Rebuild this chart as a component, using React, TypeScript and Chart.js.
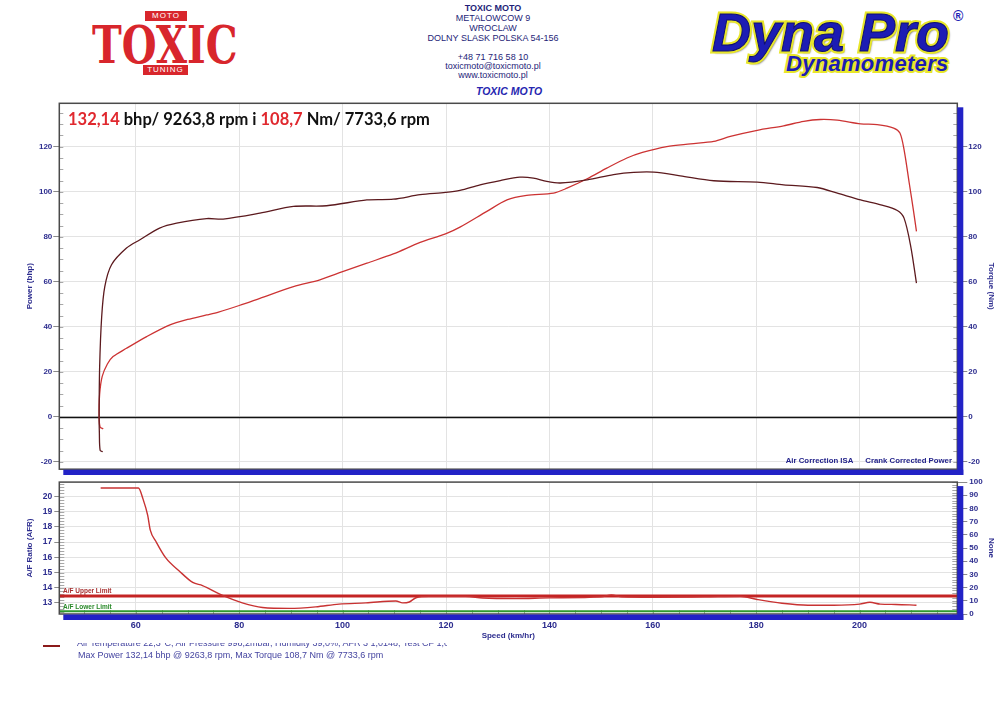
import React, { useEffect, useRef } from 'react';
import { Chart, registerables } from 'chart.js';

Chart.register(...registerables);

// Axis ranges
const speedMin = 45.2;
const speedMax = 218.9;
const powerAxisMin = -23.2;
const powerAxisMax = 139.3;
const afrAxisMin = 12.27;
const afrAxisMax = 20.95;
const noneAxisMin = 0;
const noneAxisMax = 100;

// Power curve (bhp) vs speed (km/hr)
const powerSpeed = [53.7, 53.1, 52.9, 53.0, 53.5, 54.5, 55.6, 58.2, 62.1, 66.6, 70.0, 73.7, 76.0, 80.0, 84.0, 90.5, 95.6, 100.0, 104.7, 109.8, 115.0, 119.9, 122.7, 127.9, 131.8, 135.6, 140.8, 143.4, 147.3, 151.1, 155.0, 158.0, 162.7, 167.3, 171.8, 175.0, 180.2, 185.3, 189.2, 192.4, 195.7, 200.2, 203.4, 206.6, 207.8, 208.6, 209.6, 210.4, 211.0];
const powerBhp = [-5.3, -4.6, 0, 10, 18, 23.5, 26.8, 30.5, 35.7, 40.9, 43.3, 45.3, 46.6, 49.5, 52.7, 57.9, 60.9, 64.5, 68.3, 72.4, 77.5, 81.3, 84.3, 91.3, 96.4, 98.4, 99.4, 101.6, 105.8, 110.5, 115.0, 117.5, 120.1, 121.3, 122.4, 124.6, 127.3, 129.3, 131.3, 132.1, 131.8, 130.2, 129.8, 128.3, 126.1, 118.7, 103.9, 92.0, 82.4];

// Torque curve (Nm) vs speed (km/hr)
const torqueSpeed = [53.6, 53.1, 52.95, 52.9, 53.0, 53.4, 54.0, 55.3, 58.2, 60.8, 64.6, 67.9, 73.7, 76.9, 84.0, 90.5, 96.9, 104.7, 109.8, 115.0, 119.9, 122.7, 126.6, 130.5, 134.3, 136.9, 139.5, 142.1, 147.3, 152.4, 156.3, 160.2, 165.3, 171.8, 180.2, 185.3, 191.8, 195.7, 200.2, 204.1, 207.3, 208.6, 209.9, 211.0];
const torqueNm = [-15.4, -14.8, -7, 0, 22, 44.6, 57.9, 67.6, 75.0, 78.7, 83.9, 86.1, 88.1, 87.9, 90.5, 93.5, 93.8, 96.4, 96.7, 98.7, 99.7, 100.6, 103.1, 105.0, 106.5, 106.1, 104.6, 103.9, 105.3, 107.6, 108.6, 108.7, 107.1, 104.9, 104.3, 103.1, 101.9, 99.4, 96.4, 94.2, 91.7, 88.3, 75.7, 59.4];

// Air/fuel ratio vs speed (km/hr)
const afrSpeed = [53.2, 60.5, 61.4, 62.3, 62.8, 63.9, 65.8, 68.4, 71.0, 72.9, 76.8, 80.6, 84.5, 89.7, 94.8, 99.3, 104.5, 110.3, 111.6, 112.9, 114.2, 116.7, 123.8, 127.1, 133.5, 140, 150, 152, 154, 160, 170, 177, 180, 185, 190, 195, 200, 202, 204, 207, 211];
const afrRatio = [20.56, 20.56, 19.83, 18.76, 17.79, 17.04, 15.96, 15.1, 14.35, 14.14, 13.49, 13.0, 12.7, 12.64, 12.74, 12.92, 13.0, 13.13, 13.0, 13.06, 13.34, 13.43, 13.43, 13.32, 13.28, 13.33, 13.4, 13.53, 13.4, 13.37, 13.4, 13.43, 13.24, 12.98, 12.85, 12.85, 12.92, 13.04, 12.92, 12.9, 12.85];
const afrUpperLimit = 13.45;
const afrLowerLimit = 12.45;

const NAVY = '#2c2c8e';
const FONT = "'Liberation Sans', Arial, sans-serif";
const BLUE = '#2222c6';

const toPoints = (xs: number[], ys: number[]) => xs.map((x, i) => ({ x, y: ys[i] }));

const dynoFrame = {
  id: 'dynoFrame',
  beforeDatasetsDraw(chart: any, _args: any, opts: any) {
    const { ctx, chartArea: a, scales } = chart;
    ctx.save();
    ctx.strokeStyle = '#a8a8a8';
    ctx.lineWidth = 1;
    const yMinor = (scale: any, step: number, len: number, side: string) => {
      if (!scale || !step) return;
      for (let i = Math.ceil(scale.min / step - 1e-9); i * step <= scale.max + 1e-9; i++) {
        const y = Math.round(scale.getPixelForValue(i * step)) + 0.5;
        ctx.beginPath();
        if (side === 'left') { ctx.moveTo(a.left, y); ctx.lineTo(a.left + len, y); }
        else { ctx.moveTo(a.right - len, y); ctx.lineTo(a.right, y); }
        ctx.stroke();
      }
    };
    yMinor(scales.y, opts.leftStep, opts.leftLen || 4, 'left');
    yMinor(scales.y1, opts.rightStep, opts.rightLen || 4, 'right');
    if (opts.bottomStep) {
      const sx = scales.x;
      for (let i = Math.ceil(sx.min / opts.bottomStep); i * opts.bottomStep <= sx.max; i++) {
        const x = Math.round(sx.getPixelForValue(i * opts.bottomStep)) + 0.5;
        ctx.beginPath();
        ctx.moveTo(x, a.bottom);
        ctx.lineTo(x, a.bottom - 4);
        ctx.stroke();
      }
    }
    if (opts.zeroLine) {
      const y = Math.round(scales.y.getPixelForValue(0)) + 0.5;
      ctx.strokeStyle = '#111';
      ctx.lineWidth = 1.3;
      ctx.beginPath();
      ctx.moveTo(a.left, y);
      ctx.lineTo(a.right, y);
      ctx.stroke();
    }
    ctx.restore();
  },
  afterDraw(chart: any) {
    const { ctx, chartArea: a } = chart;
    ctx.save();
    ctx.strokeStyle = '#4a4a4a';
    ctx.lineWidth = 1.5;
    ctx.strokeRect(a.left, a.top, a.right - a.left, a.bottom - a.top);
    ctx.fillStyle = BLUE;
    ctx.fillRect(a.right, a.top + 4, 6, a.bottom - a.top + 2);
    ctx.fillRect(a.left + 4, a.bottom + 0.5, a.right - a.left + 2, 5.5);
    ctx.restore();
  },
};

const tickFont = (size: number) => ({ family: FONT, size, weight: 'bold' as const });

export default function App() {
  const topRef = useRef<HTMLCanvasElement | null>(null);
  const botRef = useRef<HTMLCanvasElement | null>(null);

  useEffect(() => {
    const top = new Chart(topRef.current as HTMLCanvasElement, {
      type: 'line',
      data: {
        datasets: [
          {
            label: 'Torque (Nm)',
            data: toPoints(torqueSpeed, torqueNm),
            borderColor: '#5c1a1e',
            borderWidth: 1.3,
            pointRadius: 0,
            tension: 0.3,
            yAxisID: 'y1',
          },
          {
            label: 'Power (bhp)',
            data: toPoints(powerSpeed, powerBhp),
            borderColor: '#cc3333',
            borderWidth: 1.3,
            pointRadius: 0,
            tension: 0.3,
            yAxisID: 'y',
          },
        ],
      },
      options: {
        responsive: false,
        maintainAspectRatio: false,
        animation: false,
        layout: { padding: { top: 8.3, bottom: 5.7, left: 0, right: 0 } },
        plugins: {
          legend: { display: false },
          tooltip: { enabled: false },
          dynoFrame: { leftStep: 5, rightStep: 5, zeroLine: true },
        } as any,
        scales: {
          x: {
            type: 'linear',
            min: speedMin,
            max: speedMax,
            ticks: { display: false, stepSize: 20, includeBounds: false },
            grid: { color: '#e3e3e3', drawTicks: false },
            border: { display: false },
            afterFit: (s: any) => { s.height = 0; },
          },
          y: {
            position: 'left',
            min: powerAxisMin,
            max: powerAxisMax,
            ticks: { stepSize: 20, includeBounds: false, color: NAVY, font: tickFont(8), padding: 1 },
            grid: { color: '#e3e3e3', tickColor: '#8a8a8a', tickLength: 6 },
            border: { display: false },
            title: { display: true, text: 'Power (bhp)', color: NAVY, font: tickFont(8), padding: { top: 25, bottom: 0 } },
            afterFit: (s: any) => { s.width = 59.3; },
          },
          y1: {
            position: 'right',
            min: powerAxisMin,
            max: powerAxisMax,
            ticks: { stepSize: 20, includeBounds: false, color: NAVY, font: tickFont(8), padding: 1 },
            grid: { drawOnChartArea: false, tickColor: '#8a8a8a', tickLength: 10 },
            border: { display: false },
            title: { display: true, text: 'Torque (Nm)', color: NAVY, font: tickFont(8), padding: { top: 4, bottom: 0 } },
            afterFit: (s: any) => { s.width = 42.7; },
          },
        },
      } as any,
      plugins: [dynoFrame as any],
    });

    const bot = new Chart(botRef.current as HTMLCanvasElement, {
      type: 'line',
      data: {
        datasets: [
          {
            label: 'A/F Ratio',
            data: toPoints(afrSpeed, afrRatio),
            borderColor: '#c83232',
            borderWidth: 1.4,
            pointRadius: 0,
            cubicInterpolationMode: 'monotone',
            yAxisID: 'y',
          },
          {
            label: 'A/F Upper Limit',
            data: [{ x: speedMin, y: afrUpperLimit }, { x: speedMax, y: afrUpperLimit }],
            borderColor: '#c42424',
            borderWidth: 3,
            pointRadius: 0,
            yAxisID: 'y',
          },
          {
            label: 'A/F Lower Limit',
            data: [{ x: speedMin, y: afrLowerLimit }, { x: speedMax, y: afrLowerLimit }],
            borderColor: '#2f9a2f',
            borderWidth: 2,
            pointRadius: 0,
            yAxisID: 'y',
          },
        ],
      },
      options: {
        responsive: false,
        maintainAspectRatio: false,
        animation: false,
        layout: { padding: { top: 4.3, bottom: 0, left: 0, right: 0 } },
        plugins: {
          legend: { display: false },
          tooltip: { enabled: false },
          dynoFrame: { leftStep: 0.2, rightStep: 2, bottomStep: 5, leftLen: 5, rightLen: 5 },
        } as any,
        scales: {
          x: {
            type: 'linear',
            min: speedMin,
            max: speedMax,
            ticks: { stepSize: 20, includeBounds: false, color: NAVY, font: tickFont(9), padding: 6 },
            grid: { color: '#e3e3e3', drawTicks: false },
            border: { display: false },
            title: { display: true, text: 'Speed (km/hr)', color: NAVY, font: tickFont(8), padding: { top: 0, bottom: 4.6 } },
            afterFit: (s: any) => { s.height = 31; },
          },
          y: {
            position: 'left',
            min: afrAxisMin,
            max: afrAxisMax,
            ticks: { stepSize: 1, includeBounds: false, color: NAVY, font: tickFont(8.5), padding: 2 },
            grid: { color: '#e3e3e3', tickColor: '#8a8a8a', tickLength: 5 },
            border: { display: false },
            title: { display: true, text: 'A/F Ratio (AFR)', color: NAVY, font: tickFont(8), padding: { top: 25, bottom: 0 } },
            afterFit: (s: any) => { s.width = 59.3; },
          },
          y1: {
            position: 'right',
            min: noneAxisMin,
            max: noneAxisMax,
            ticks: { stepSize: 10, includeBounds: false, color: NAVY, font: tickFont(8), padding: 2 },
            grid: { drawOnChartArea: false, tickColor: '#8a8a8a', tickLength: 10 },
            border: { display: false },
            title: { display: true, text: 'None', color: NAVY, font: tickFont(8), padding: { top: 4, bottom: 0 } },
            afterFit: (s: any) => { s.width = 42.7; },
          },
        },
      } as any,
      plugins: [dynoFrame as any],
    });

    return () => {
      top.destroy();
      bot.destroy();
    };
  }, []);

  const abs = (s: React.CSSProperties): React.CSSProperties => ({ position: 'absolute', whiteSpace: 'nowrap', ...s });
  const hdr: React.CSSProperties = { fontFamily: FONT, fontSize: 9, color: '#1e1e78', lineHeight: '10px', textAlign: 'center', width: 200, left: 393 };

  return (
    <div style={{ position: 'absolute', left: 0, top: 0, width: 1000, height: 706, background: '#fff', overflow: 'hidden', fontFamily: FONT }}>
      {/* TOXIC logo */}
      <div style={abs({ left: 145, top: 11, width: 42, height: 10, background: '#d8262c', color: '#fff', fontSize: 8, lineHeight: '10px', textAlign: 'center', letterSpacing: 1 })}>MOTO</div>
      <div style={abs({ left: 92, top: 14, fontFamily: "'DejaVu Serif', serif", fontWeight: 'bold', fontSize: 40, lineHeight: '48px', color: '#d8262c', letterSpacing: 0, transform: 'scaleY(1.3)', transformOrigin: 'top left' })}>TOXIC</div>
      <div style={abs({ left: 143, top: 65, width: 45, height: 10, background: '#d8262c', color: '#fff', fontSize: 8, lineHeight: '10px', textAlign: 'center', letterSpacing: 1 })}>TUNING</div>

      {/* Center address */}
      <div style={abs({ ...hdr, top: 3, fontWeight: 'bold' })}>TOXIC MOTO</div>
      <div style={abs({ ...hdr, top: 12.5 })}>METALOWCOW 9</div>
      <div style={abs({ ...hdr, top: 23 })}>WROCLAW</div>
      <div style={abs({ ...hdr, top: 33 })}>DOLNY SLASK POLSKA 54-156</div>
      <div style={abs({ ...hdr, top: 52 })}>+48 71 716 58 10</div>
      <div style={abs({ ...hdr, top: 61 })}>toxicmoto@toxicmoto.pl</div>
      <div style={abs({ ...hdr, top: 70 })}>www.toxicmoto.pl</div>
      <div style={abs({ ...hdr, left: 409, top: 85, fontSize: 10.5, lineHeight: '12px', fontWeight: 'bold', fontStyle: 'italic', color: '#2626b0' })}>TOXIC MOTO</div>

      {/* Dyna Pro logo */}
      <div style={abs({ left: 712, top: 5, fontSize: 54, lineHeight: '54px', fontWeight: 'bold', fontStyle: 'italic', color: '#e8e62a', WebkitTextStroke: '5px #e8e62a', textShadow: '2px 2px 2px #555' })}>Dyna Pro</div>
      <div style={abs({ left: 712, top: 5, fontSize: 54, lineHeight: '54px', fontWeight: 'bold', fontStyle: 'italic', color: '#1c1cb4', WebkitTextStroke: '1px #0e0e70' })}>Dyna Pro</div>
      <div style={abs({ left: 953, top: 9, fontSize: 14, lineHeight: '14px', fontWeight: 'bold', color: '#1c1cb4' })}>®</div>
      <div style={abs({ left: 786, top: 53, fontSize: 22, lineHeight: '22px', fontWeight: 'bold', fontStyle: 'italic', color: '#e8e62a', WebkitTextStroke: '4px #e8e62a', letterSpacing: 0.3 })}>Dynamometers</div>
      <div style={abs({ left: 786, top: 53, fontSize: 22, lineHeight: '22px', fontWeight: 'bold', fontStyle: 'italic', color: '#1c1cb4', letterSpacing: 0.3 })}>Dynamometers</div>

      <canvas ref={topRef} width={1000} height={380} style={{ position: 'absolute', left: 0, top: 95, width: 1000, height: 380, display: 'block' }} />
      <canvas ref={botRef} width={1000} height={170} style={{ position: 'absolute', left: 0, top: 475, width: 1000, height: 170, display: 'block' }} />

      {/* Chart annotations */}
      <div style={abs({ left: 68, top: 111, fontFamily: "Lato, 'Open Sans', sans-serif", fontWeight: 'bold', fontSize: 16.5, lineHeight: '16px', color: '#111' })}>
        <span style={{ color: '#e0282e' }}>132,14</span> bhp/ 9263,8 rpm i <span style={{ color: '#e0282e' }}>108,7</span> Nm/ 7733,6 rpm
      </div>
      <div style={abs({ right: 48, top: 456, fontSize: 7.8, lineHeight: '10px', fontWeight: 'bold', color: '#22228a' })}>
        Air Correction ISA<span style={{ display: 'inline-block', width: 12 }} />Crank Corrected Power
      </div>
      <div style={abs({ left: 63, top: 587, fontSize: 6.5, lineHeight: '8px', fontWeight: 'bold', color: '#a83030' })}>A/F Upper Limit</div>
      <div style={abs({ left: 63, top: 603, fontSize: 6.5, lineHeight: '8px', fontWeight: 'bold', color: '#2a8a2a' })}>A/F Lower Limit</div>

      {/* Legend */}
      <div style={abs({ left: 43, top: 645, width: 17, height: 2, background: '#8b1a1a' })} />
      <div style={abs({ left: 77, top: 643, height: 5, width: 370, overflow: 'hidden' })}>
        <div style={abs({ left: 0, top: -5, fontSize: 9, lineHeight: '10px', color: '#4444a0' })}>Air Temperature 22,3°C, Air Pressure 998,2mbar, Humidity 39,0%, AFR 3 1,0148, Test CF 1,0142</div>
      </div>
      <div style={abs({ left: 78, top: 650, fontSize: 9, lineHeight: '10px', color: '#4444a0' })}>Max Power 132,14 bhp @ 9263,8 rpm, Max Torque 108,7 Nm @ 7733,6 rpm</div>
    </div>
  );
}
